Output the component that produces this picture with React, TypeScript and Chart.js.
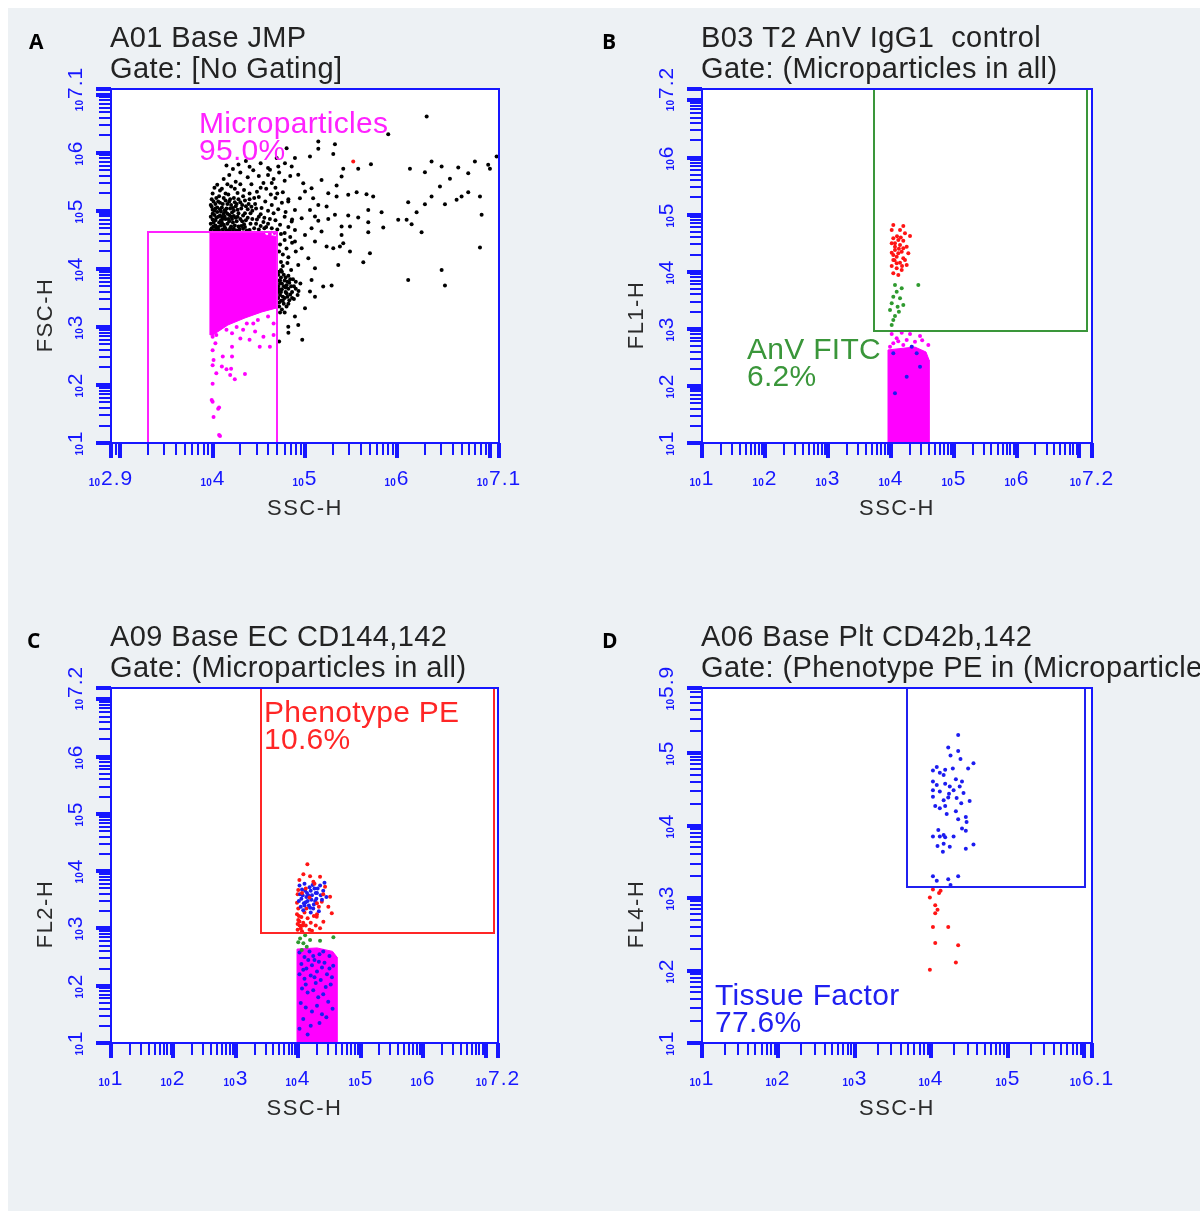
import { useEffect, useRef } from 'react';
import { Chart, registerables } from 'chart.js';

Chart.register(...registerables);

type Pair = [number, number];

// Every event is stored as [log10(SSC-H), log10(channel)].

// ---------- Panel A: FSC-H vs SSC-H, no gating ----------
const aXTicks = [2.9, 4, 5, 6, 7.1];
const aYTicks = [1, 2, 3, 4, 5, 6, 7.1];
const aGateX: Pair = [3.3, 4.7];
const aGateY: Pair = [1, 4.64];

const aMagentaCore: Pair[] = [
  [3.971, 4.64], [4.52, 4.64], [4.58, 4.58], [4.696, 4.56], [4.696, 3.328],
  [4.534, 3.259], [4.35, 3.155], [4.166, 3.034], [4.004, 2.862], [3.971, 2.862], [3.971, 4.64],
];
const aMagentaSparse: Pair[] = [
  [4.0, 2.83], [4.04, 2.86], [4.15, 2.95], [4.26, 3.0], [4.37, 3.06], [4.49, 3.12], [4.6, 3.18],
  [4.66, 3.06], [4.46, 2.92], [4.55, 2.83], [4.3, 2.8], [4.4, 2.78], [4.62, 2.66], [4.51, 2.66],
  [4.21, 2.66], [4.0, 2.6], [4.03, 2.72], [4.11, 2.49], [4.21, 2.49], [4.1, 2.32], [4.0, 2.34],
  [4.04, 2.2], [4.15, 2.27], [4.24, 2.1], [4.35, 2.19], [4.0, 2.02], [4.0, 1.71], [4.07, 1.61],
  [4.01, 1.45], [4.07, 1.14], [4.19, 2.17], [4.01, 2.43], [4.33, 2.95], [4.21, 2.89], [4.44, 3.06],
  [4.66, 2.86], [4.06, 1.59], [4.08, 1.12], [3.99, 1.74], [4.2, 2.28],
  [4.55, 4.62], [4.62, 4.6], [4.67, 4.62],
];
const aRed: Pair[] = [[5.522, 5.85]];
const aBlackSparse: Pair[] = [
  [6.317, 6.626], [5.901, 6.322], [7.074, 5.936], [6.37, 5.85], [6.479, 5.764], [6.659, 5.747],
  [6.767, 5.65], [6.839, 5.85], [6.983, 5.793], [7.002, 5.724], [6.136, 5.724], [6.298, 5.667],
  [5.714, 5.805], [5.576, 5.724], [5.414, 5.724], [5.144, 6.195], [5.324, 6.15], [5.144, 6.069],
  [5.306, 5.978], [5.054, 5.936], [6.569, 5.552], [6.461, 5.419], [6.767, 5.322], [6.695, 5.247],
  [6.894, 5.247], [6.641, 5.19], [6.515, 5.116], [6.37, 5.247], [6.298, 5.116], [6.117, 5.15],
  [6.208, 4.978], [6.009, 4.845], [6.1, 4.845], [6.154, 4.771], [6.262, 4.633], [6.912, 4.931],
  [6.894, 4.367], [6.479, 3.983], [6.515, 3.712], [6.117, 3.81], [5.847, 4.712], [5.829, 4.978],
  [5.685, 5.017], [5.738, 5.247], [5.666, 5.288], [5.559, 5.322], [5.468, 5.276], [5.396, 5.591],
  [5.685, 4.805], [5.685, 4.633], [5.703, 4.271], [5.631, 4.116], [5.36, 4.069], [5.414, 4.443],
  [5.487, 4.298], [5.378, 4.384], [5.306, 4.357], [5.234, 4.384], [5.396, 4.586], [5.396, 4.729],
  [5.252, 4.862], [5.144, 4.828], [5.324, 4.931], [5.468, 4.919], [5.576, 4.884], [5.487, 4.729],
  [5.342, 5.247], [5.252, 5.305], [5.342, 5.436], [5.179, 5.534], [5.071, 5.391], [4.981, 5.478],
  [4.927, 5.621], [4.856, 5.764], [4.783, 5.822], [4.711, 5.764], [4.621, 5.707], [4.891, 5.909],
  [4.801, 6.081], [4.693, 5.909], [5.197, 3.695], [5.288, 3.712], [5.071, 3.81], [5.054, 3.609],
  [5.108, 3.522], [5.0, 3.322], [4.891, 3.178], [4.819, 3.005], [4.927, 3.034], [5.108, 4.012],
  [5.036, 4.184], [4.927, 4.069], [4.964, 4.357], [4.891, 4.471], [5.108, 4.471], [5.0, 4.586],
  [4.891, 4.672], [5.071, 4.702], [5.179, 4.643], [4.856, 4.816], [4.964, 4.874], [5.054, 5.017],
  [4.891, 5.017], [4.819, 5.16], [4.945, 5.219], [5.088, 5.219], [5.0, 5.333], [5.144, 5.103],
  [5.234, 5.074], [5.108, 4.902], [4.82, 2.9], [4.97, 2.78], [4.72, 2.75],
];
const aBlackDense: Pair[] = [
  [4.05, 5.45], [4.12, 5.55], [4.18, 5.62], [4.25, 5.5], [4.3, 5.66], [4.38, 5.58], [4.44, 5.7],
  [4.5, 5.6], [4.55, 5.48], [4.6, 5.62], [4.66, 5.55], [4.72, 5.66], [4.78, 5.52], [4.84, 5.6],
  [4.1, 5.38], [4.2, 5.42], [4.34, 5.36], [4.42, 5.46], [4.48, 5.33], [4.58, 5.38], [4.68, 5.4],
  [4.76, 5.32], [4.0, 5.3], [4.27, 5.31], [4.63, 5.28], [4.15, 5.78], [4.28, 5.8], [4.4, 5.76],
  [4.52, 5.82], [4.36, 5.86], [4.22, 5.72], [4.6, 5.74],
  [3.99, 5.2], [4.03, 5.12], [4.07, 5.25], [4.1, 5.06], [4.14, 5.18], [4.17, 5.28], [4.2, 5.1],
  [4.23, 5.22], [4.27, 5.02], [4.3, 5.15], [4.33, 5.25], [4.36, 5.08], [4.4, 5.2], [4.43, 5.0],
  [4.46, 5.12], [4.5, 5.24], [4.53, 5.05], [4.57, 5.16], [4.6, 5.0], [4.64, 5.1], [4.68, 5.22],
  [4.71, 5.03], [4.75, 5.14], [4.79, 4.98], [4.82, 5.2], [4.0, 5.02], [4.05, 4.98], [4.12, 4.95],
  [4.21, 4.97], [4.35, 4.96], [4.52, 4.94], [4.66, 4.96],
  [3.98, 4.9], [4.01, 4.8], [4.04, 4.88], [4.06, 4.72], [4.09, 4.84], [4.11, 4.68], [4.13, 4.9],
  [4.16, 4.78], [4.19, 4.7], [4.21, 4.86], [4.24, 4.75], [4.27, 4.9], [4.29, 4.68], [4.32, 4.82],
  [4.35, 4.72], [4.38, 4.88], [4.41, 4.78], [4.45, 4.7], [4.48, 4.85], [4.52, 4.74], [4.56, 4.88],
  [4.6, 4.78], [4.64, 4.7], [4.68, 4.84], [4.73, 4.76], [4.78, 4.9], [4.82, 4.72], [3.99, 4.7],
  [4.02, 4.66], [4.08, 4.92], [4.15, 4.66], [4.26, 4.66], [4.4, 4.67], [4.7, 4.68], [4.86, 4.85],
  [4.03, 4.75], [4.07, 4.8], [4.12, 4.76], [4.17, 4.86], [4.22, 4.8], [4.02, 4.93], [4.09, 4.99],
  [4.15, 5.04], [4.25, 5.08], [4.05, 5.06], [4.18, 4.93], [4.28, 4.96], [4.38, 5.03], [4.0, 4.85],
  [4.1, 4.9], [4.3, 4.86], [4.2, 4.73], [4.34, 4.77], [4.47, 4.78], [4.55, 4.81],
  [3.98, 5.1], [4.01, 5.16], [4.04, 5.22], [4.08, 5.14], [4.12, 5.22], [4.16, 5.12], [4.19, 5.2],
  [4.24, 5.15], [4.28, 5.2], [4.32, 5.1], [4.39, 5.12], [4.45, 5.22], [4.02, 5.0], [4.08, 5.03],
  [4.14, 4.99], [4.19, 5.04], [4.23, 5.0], [4.31, 5.04], [4.41, 4.96], [4.47, 5.04], [4.03, 4.84],
  [4.06, 4.9], [4.1, 4.8], [4.14, 4.86], [4.18, 4.82], [4.23, 4.91], [4.26, 4.82], [4.31, 4.74],
  [4.36, 4.84], [4.43, 4.86], [4.5, 4.9], [4.58, 4.72], [4.62, 4.86], [4.01, 4.73], [4.05, 4.68],
  [4.13, 4.72], [4.18, 4.66], [4.23, 4.69], [4.33, 4.69], [4.37, 4.66], [4.5, 4.68], [4.56, 4.7],
  [4.08, 5.35], [4.16, 5.46], [4.24, 5.38], [4.3, 5.46], [4.4, 5.3], [4.52, 5.4], [4.64, 5.48],
  [4.7, 5.3], [4.02, 5.4], [4.14, 5.3],
  [3.98, 4.78], [3.98, 4.67], [4.0, 4.95], [4.04, 4.7], [4.07, 4.67], [4.09, 4.75], [4.11, 4.86],
  [4.14, 4.69], [4.16, 4.95], [4.2, 4.9], [4.22, 4.67], [4.25, 4.88], [4.28, 4.73], [4.33, 4.92],
  [3.99, 5.07], [4.03, 5.04], [4.06, 5.16], [4.11, 5.12], [4.13, 5.01], [4.18, 5.16], [4.22, 5.05],
  [4.26, 5.12], [4.35, 5.18], [4.42, 5.07],
];
const aBlackCluster: Pair[] = [
  [4.72, 3.95], [4.74, 3.85], [4.73, 3.75], [4.72, 3.65], [4.73, 3.55], [4.74, 3.45], [4.72, 3.35],
  [4.77, 3.9], [4.78, 3.8], [4.77, 3.7], [4.79, 3.6], [4.78, 3.5], [4.77, 3.4], [4.82, 3.88],
  [4.83, 3.76], [4.82, 3.66], [4.84, 3.56], [4.83, 3.46], [4.87, 3.82], [4.88, 3.7], [4.86, 3.6],
  [4.9, 3.66], [4.92, 3.55], [4.88, 3.48], [4.75, 3.3], [4.8, 3.35], [4.95, 3.75], [4.76, 4.05],
  [4.81, 4.1], [4.85, 3.98], [4.74, 3.6], [4.76, 3.52], [4.8, 3.72], [4.8, 3.58], [4.85, 3.7],
  [4.73, 3.8], [4.74, 4.6], [4.78, 4.5], [4.73, 4.42], [4.8, 4.35], [4.76, 4.25], [4.82, 4.2],
  [4.74, 4.12], [4.86, 4.45], [4.9, 4.3], [4.78, 4.62], [4.84, 4.55], [4.72, 4.3],
  [4.71, 3.9], [4.71, 3.7], [4.71, 3.5], [4.71, 3.6], [4.72, 3.8], [4.75, 3.95], [4.75, 3.75],
  [4.75, 3.65], [4.76, 3.45], [4.79, 3.85], [4.79, 3.68], [4.81, 3.52], [4.81, 3.78], [4.84, 3.82],
  [4.86, 3.5], [4.9, 3.78], [4.72, 3.42], [4.73, 3.25], [4.78, 3.25], [4.82, 3.4], [4.93, 3.62],
  [4.74, 3.98],
];

// ---------- Panel B: FL1-H (AnV FITC) vs SSC-H ----------
const bXTicks = [1, 2, 3, 4, 5, 6, 7.2];
const bYTicks = [1, 2, 3, 4, 5, 6, 7.2];
const bGateX: Pair = [3.73, 7.12];
const bGateY: Pair = [2.96, 7.2];

const bRed: Pair[] = [
  [4.041, 4.818], [4.2, 4.8], [4.016, 4.73], [4.148, 4.73], [4.227, 4.672], [4.307, 4.625],
  [4.041, 4.585], [4.121, 4.555], [4.2, 4.543], [4.016, 4.497], [4.148, 4.468], [4.254, 4.438],
  [4.068, 4.38], [4.016, 4.333], [4.175, 4.35], [4.28, 4.322], [4.095, 4.263], [4.2, 4.235],
  [4.041, 4.205], [4.148, 4.158], [4.254, 4.117], [4.016, 4.1], [4.095, 4.06], [4.175, 4.03],
  [4.041, 3.972], [4.121, 3.942], [4.068, 4.438], [4.121, 4.322], [4.227, 4.205], [4.095, 4.147],
  [4.2, 4.41], [4.041, 4.293], [4.068, 4.5], [4.1, 4.62], [4.16, 4.6], [4.13, 4.4], [4.06, 4.2],
  [4.18, 4.1],
];
const bGreen: Pair[] = [
  [4.068, 3.767], [4.175, 3.709], [4.439, 3.767], [4.095, 3.65], [4.041, 3.562], [4.148, 3.534],
  [4.016, 3.447], [4.11, 3.387], [4.2, 3.417], [3.989, 3.329], [4.13, 3.3], [4.068, 3.224],
  [4.041, 3.154], [4.016, 3.067],
];
const bMagentaSparse: Pair[] = [
  [4.016, 2.909], [4.175, 2.932], [4.307, 2.909], [4.466, 2.874], [4.095, 2.834], [4.254, 2.804],
  [4.041, 2.746], [4.386, 2.774], [4.598, 2.716], [4.2, 2.716], [3.989, 2.687], [4.334, 2.687],
  [4.12, 2.78], [4.5, 2.8],
];
const bMagentaCore: Pair[] = [
  [3.957, 2.63], [4.2, 2.66], [4.386, 2.68], [4.561, 2.594], [4.609, 2.454], [4.609, 1],
  [3.957, 1], [3.957, 2.63],
];
const bBlue: Pair[] = [
  [4.041, 2.571], [4.334, 2.687], [4.466, 2.336], [4.254, 2.161], [4.068, 1.87], [4.413, 2.571],
];

// ---------- Panel C: FL2-H (Phenotype PE) vs SSC-H ----------
const cXTicks = [1, 2, 3, 4, 5, 6, 7.2];
const cYTicks = [1, 2, 3, 4, 5, 6, 7.2];
const cGateX: Pair = [3.4, 7.14];
const cGateY: Pair = [2.92, 7.2];

const cRed: Pair[] = [
  [4.146, 4.124], [4.082, 3.949], [4.189, 3.914], [4.349, 3.902], [4.018, 3.845], [4.242, 3.815],
  [4.429, 3.728], [4.51, 3.553], [4.377, 3.466], [4.482, 3.379], [4.296, 3.204], [4.402, 3.117],
  [4.349, 3.002], [4.0, 3.67], [4.537, 3.264],
  [3.98, 3.25], [4.0, 3.15], [4.02, 3.05], [3.99, 2.98], [4.05, 3.2], [4.08, 3.1], [4.04, 3.0],
  [4.1, 3.28], [4.12, 3.05], [4.15, 3.18], [4.2, 3.1], [4.25, 3.22], [4.18, 2.98], [4.28, 3.05],
  [3.98, 3.45], [3.99, 3.6], [4.0, 3.35], [4.22, 2.96], [4.3, 3.25], [4.06, 2.95], [4.13, 3.35],
  [4.33, 3.38], [4.02, 3.12], [4.07, 3.05], [4.01, 3.22], [3.99, 3.08],
];
const cRedOnBlue: Pair[] = [
  [4.06, 3.62], [4.18, 3.54], [4.3, 3.44], [4.12, 3.7], [4.26, 3.78], [4.4, 3.6],
];
const cBlueTop: Pair[] = [
  [4.02, 3.75], [4.06, 3.68], [4.1, 3.78], [4.14, 3.62], [4.18, 3.72], [4.22, 3.58], [4.26, 3.7],
  [4.3, 3.62], [4.35, 3.75], [4.4, 3.66], [4.05, 3.52], [4.09, 3.44], [4.13, 3.55], [4.17, 3.4],
  [4.21, 3.5], [4.25, 3.42], [4.29, 3.52], [4.33, 3.3], [4.04, 3.38], [4.08, 3.32], [4.12, 3.46],
  [4.16, 3.58], [4.2, 3.66], [4.24, 3.35], [4.28, 3.62], [4.38, 3.5], [4.42, 3.8], [4.03, 3.6],
  [4.07, 3.58], [4.11, 3.66], [4.15, 3.48], [4.19, 3.36], [4.23, 3.76], [4.27, 3.48], [4.31, 3.7],
  [4.36, 3.58], [4.45, 3.55], [4.01, 3.48], [4.1, 3.4], [4.2, 3.28],
];
const cGreen: Pair[] = [
  [4.029, 2.827], [4.082, 2.74], [4.189, 2.798], [4.349, 2.785], [4.563, 2.845], [4.056, 2.623],
  [4.136, 2.681], [4.0, 2.76], [4.11, 2.88],
];
const cMagentaCore: Pair[] = [
  [3.98, 2.64], [4.3, 2.66], [4.55, 2.6], [4.62, 2.5], [4.62, 1], [3.98, 1], [3.98, 2.64],
];
const cBlueLow: Pair[] = [
  [4.02, 2.58], [4.1, 2.5], [4.18, 2.6], [4.26, 2.45], [4.34, 2.55], [4.42, 2.4], [4.5, 2.52],
  [4.56, 2.35], [4.05, 2.38], [4.13, 2.3], [4.22, 2.36], [4.3, 2.25], [4.38, 2.32], [4.46, 2.2],
  [4.54, 2.15], [4.02, 2.2], [4.1, 2.12], [4.2, 2.18], [4.28, 2.05], [4.36, 2.1], [4.44, 1.98],
  [4.52, 2.02], [4.06, 1.95], [4.15, 1.88], [4.24, 1.92], [4.32, 1.8], [4.4, 1.85], [4.48, 1.72],
  [4.04, 1.7], [4.12, 1.62], [4.22, 1.55], [4.3, 1.65], [4.38, 1.5], [4.08, 1.42], [4.2, 1.3],
  [4.34, 1.35], [4.45, 1.45], [4.02, 1.25], [4.15, 1.15], [4.55, 1.6], [4.16, 2.45], [4.24, 2.52],
  [4.4, 2.6], [4.08, 2.28], [4.33, 2.42], [4.5, 2.3], [4.26, 2.15], [4.12, 2.02],
];

// ---------- Panel D: FL4-H (Tissue Factor) vs SSC-H ----------
const dXTicks = [1, 2, 3, 4, 5, 6.1];
const dYTicks = [1, 2, 3, 4, 5, 5.9];
const dGateX: Pair = [3.68, 6.01];
const dGateY: Pair = [3.15, 5.9];

const dBlue: Pair[] = [
  [4.35, 5.25], [4.22, 5.08], [4.35, 5.03], [4.25, 4.97], [4.38, 4.92], [4.55, 4.86], [4.48, 4.79],
  [4.02, 4.76], [4.07, 4.81], [4.11, 4.73], [4.18, 4.77], [4.28, 4.79], [4.16, 4.7], [4.32, 4.64],
  [4.4, 4.61], [4.02, 4.61], [4.07, 4.56], [4.18, 4.58], [4.24, 4.54], [4.29, 4.49], [4.37, 4.54],
  [4.02, 4.49], [4.11, 4.47], [4.23, 4.44], [4.42, 4.45], [4.02, 4.4], [4.16, 4.35], [4.5, 4.34],
  [4.33, 4.38], [4.22, 4.39], [4.05, 4.27], [4.11, 4.24], [4.18, 4.27], [4.39, 4.31], [4.2, 4.16],
  [4.32, 4.2], [4.35, 4.09], [4.45, 4.12], [4.46, 4.05], [4.4, 3.96], [4.45, 3.93], [4.09, 3.94],
  [4.02, 3.85], [4.11, 3.85], [4.16, 3.87], [4.18, 3.84], [4.29, 3.85], [4.08, 3.72], [4.16, 3.75],
  [4.24, 3.71], [4.15, 3.64], [4.45, 3.68], [4.55, 3.74], [4.02, 3.3], [4.07, 3.24], [4.22, 3.26],
  [4.35, 3.3], [4.25, 3.18],
];
const dRed: Pair[] = [
  [4.02, 3.12], [4.1, 3.07], [4.12, 3.1], [3.98, 3.01], [4.05, 2.9], [4.08, 2.84], [4.05, 2.79],
  [4.02, 2.6], [4.22, 2.6], [4.05, 2.38], [4.35, 2.35], [4.32, 2.11], [3.98, 2.01],
];

// ---------- drawing ----------
const FONT = '"Liberation Sans", Arial, Helvetica, sans-serif';
const AXIS_BLUE = '#1717ff';
const MAGENTA = '#ff00ff';
const BLACK = '#000000';
const RED = '#ff1414';
const GREEN = '#2f9a2f';
const BLUE = '#1c1cf0';

interface Series { data: Pair[]; color: string; core?: boolean }
interface Panel {
  key: string;
  letter: string;
  letterDx: number;
  title: string[];
  xTitle: string;
  yTitle: string;
  xTicks: number[];
  yTicks: number[];
  gateX: Pair;
  gateY: Pair;
  gateColor: string;
  gateLabel: string[];
  gateLabelAt: Pair;
  series: Series[]; // first entry is drawn on top
  frame: { left: number; top: number; width: number; height: number };
  pad: { left: number; top: number; right: number; bottom: number };
}

const panels: Panel[] = [
  {
    key: 'A', letter: 'A', letterDx: -82,
    title: ['A01 Base JMP', 'Gate: [No Gating]'],
    xTitle: 'SSC-H', yTitle: 'FSC-H',
    xTicks: aXTicks, yTicks: aYTicks,
    gateX: aGateX, gateY: aGateY, gateColor: '#ff22ff',
    gateLabel: ['Microparticles', '95.0%'], gateLabelAt: [88, 44],
    series: [
      { data: aRed, color: RED },
      { data: aMagentaSparse, color: MAGENTA },
      { data: aMagentaCore, color: MAGENTA, core: true },
      { data: aBlackSparse, color: BLACK },
      { data: aBlackDense, color: BLACK },
      { data: aBlackCluster, color: BLACK },
    ],
    frame: { left: 0, top: 0, width: 592, height: 592 },
    pad: { left: 103, top: 81, right: 101, bottom: 157 },
  },
  {
    key: 'B', letter: 'B', letterDx: -100,
    title: ['B03 T2 AnV IgG1  control', 'Gate: (Microparticles in all)'],
    xTitle: 'SSC-H', yTitle: 'FL1-H',
    xTicks: bXTicks, yTicks: bYTicks,
    gateX: bGateX, gateY: bGateY, gateColor: '#3a963a',
    gateLabel: ['AnV FITC', '6.2%'], gateLabelAt: [45, 270],
    series: [
      { data: bBlue, color: BLUE },
      { data: bRed, color: RED },
      { data: bGreen, color: GREEN },
      { data: bMagentaSparse, color: MAGENTA },
      { data: bMagentaCore, color: MAGENTA, core: true },
    ],
    frame: { left: 592, top: 0, width: 600, height: 592 },
    pad: { left: 102, top: 81, right: 108, bottom: 157 },
  },
  {
    key: 'C', letter: 'C', letterDx: -84,
    title: ['A09 Base EC CD144,142', 'Gate: (Microparticles in all)'],
    xTitle: 'SSC-H', yTitle: 'FL2-H',
    xTicks: cXTicks, yTicks: cYTicks,
    gateX: cGateX, gateY: cGateY, gateColor: '#ff2626',
    gateLabel: ['Phenotype PE', '10.6%'], gateLabelAt: [153, 34],
    series: [
      { data: cRedOnBlue, color: RED },
      { data: cBlueTop, color: BLUE },
      { data: cRed, color: RED },
      { data: cGreen, color: GREEN },
      { data: cBlueLow, color: BLUE },
      { data: cMagentaCore, color: MAGENTA, core: true },
    ],
    frame: { left: 0, top: 592, width: 592, height: 611 },
    pad: { left: 103, top: 88, right: 102, bottom: 168 },
  },
  {
    key: 'D', letter: 'D', letterDx: -100,
    title: ['A06 Base Plt CD42b,142', 'Gate: (Phenotype PE in (Microparticles in all))'],
    xTitle: 'SSC-H', yTitle: 'FL4-H',
    xTicks: dXTicks, yTicks: dYTicks,
    gateX: dGateX, gateY: dGateY, gateColor: '#2020f0',
    gateLabel: ['Tissue Factor', '77.6%'], gateLabelAt: [13, 317],
    series: [
      { data: dBlue, color: BLUE },
      { data: dRed, color: RED },
    ],
    frame: { left: 592, top: 592, width: 600, height: 611 },
    pad: { left: 102, top: 88, right: 108, bottom: 168 },
  },
];

const toXY = (pts: Pair[]) => pts.map(([ex, ey]) => ({ x: 10 ** ex, y: 10 ** ey }));

// decade ruler: 1..9 x 10^n inside the axis range, plus both ends
function rulerTicks(lo: number, hi: number) {
  const out: { e: number; major: boolean }[] = [{ e: lo, major: true }, { e: hi, major: true }];
  for (let n = Math.floor(lo); n <= Math.ceil(hi); n++) {
    for (let k = 1; k <= 9; k++) {
      const e = n + Math.log10(k);
      if (e > lo + 1e-6 && e < hi - 1e-6) out.push({ e, major: k === 1 });
    }
  }
  return out;
}

// "10" in small type followed by the exponent, centred on cx
function drawPower(ctx: any, exp: string, cx: number, base: number) {
  ctx.font = `bold 10px ${FONT}`;
  ctx.letterSpacing = '0px';
  const w10 = ctx.measureText('10').width;
  ctx.font = `21px ${FONT}`;
  ctx.letterSpacing = '1px';
  const we = ctx.measureText(exp).width;
  const x0 = cx - (w10 + 1 + we) / 2;
  ctx.font = `bold 10px ${FONT}`;
  ctx.letterSpacing = '0px';
  ctx.fillText('10', x0, base + 1);
  ctx.font = `21px ${FONT}`;
  ctx.letterSpacing = '1px';
  ctx.fillText(exp, x0 + w10 + 1, base);
  ctx.letterSpacing = '0px';
}

function overlayPlugin(p: Panel) {
  return {
    id: 'cytoOverlay',
    beforeDraw(chart: any) {
      const { ctx, chartArea: a } = chart;
      ctx.save();
      ctx.fillStyle = '#ffffff';
      ctx.fillRect(a.left, a.top, a.right - a.left, a.bottom - a.top);
      ctx.restore();
    },
    afterDatasetsDraw(chart: any) {
      const { ctx, chartArea: a } = chart;
      const X = (e: number) => Math.round(chart.scales.x.getPixelForValue(10 ** e));
      const Y = (e: number) => Math.round(chart.scales.y.getPixelForValue(10 ** e));
      const L = Math.round(a.left), T = Math.round(a.top), R = Math.round(a.right), B = Math.round(a.bottom);
      ctx.save();
      ctx.textAlign = 'left';
      ctx.textBaseline = 'alphabetic';

      // gate
      ctx.strokeStyle = p.gateColor;
      ctx.lineWidth = 2;
      const gl = X(p.gateX[0]), gr = X(p.gateX[1]), gt = Y(p.gateY[1]), gb = Y(p.gateY[0]);
      ctx.strokeRect(gl, gt, gr - gl, gb - gt);
      ctx.fillStyle = p.gateColor;
      ctx.font = `30px ${FONT}`;
      ctx.letterSpacing = '0.3px';
      p.gateLabel.forEach((s, i) => ctx.fillText(s, L + p.gateLabelAt[0], T + p.gateLabelAt[1] + i * 27));
      ctx.letterSpacing = '0px';

      // frame
      ctx.strokeStyle = AXIS_BLUE;
      ctx.lineWidth = 2;
      ctx.strokeRect(L, T, R - L, B - T);

      // rulers
      const xLo = p.xTicks[0], xHi = p.xTicks[p.xTicks.length - 1];
      const yLo = p.yTicks[0], yHi = p.yTicks[p.yTicks.length - 1];
      for (const t of rulerTicks(xLo, xHi)) {
        const px = X(t.e);
        ctx.lineWidth = t.major ? 4 : 2;
        ctx.beginPath();
        ctx.moveTo(px, B);
        ctx.lineTo(px, B + (t.major ? 15 : 12));
        ctx.stroke();
      }
      for (const t of rulerTicks(yLo, yHi)) {
        const py = Y(t.e);
        ctx.lineWidth = t.major ? 4 : 2;
        ctx.beginPath();
        ctx.moveTo(L, py);
        ctx.lineTo(L - (t.major ? 15 : 12), py);
        ctx.stroke();
      }

      // tick labels
      ctx.fillStyle = AXIS_BLUE;
      p.xTicks.forEach((e) => drawPower(ctx, String(e), X(e), B + 42));
      p.yTicks.forEach((e) => {
        ctx.save();
        ctx.translate(L - 29, Y(e));
        ctx.rotate(-Math.PI / 2);
        drawPower(ctx, String(e), 0, 0);
        ctx.restore();
      });

      // axis titles
      ctx.fillStyle = '#2b2b2b';
      ctx.font = `22px ${FONT}`;
      ctx.letterSpacing = '1.5px';
      ctx.textAlign = 'center';
      ctx.fillText(p.xTitle, (L + R) / 2, B + 72);
      ctx.save();
      ctx.translate(L - 59, T + 226);
      ctx.rotate(-Math.PI / 2);
      ctx.fillText(p.yTitle, 0, 0);
      ctx.restore();
      ctx.letterSpacing = '0px';

      // header
      ctx.textAlign = 'left';
      ctx.fillStyle = '#232323';
      ctx.font = `29px ${FONT}`;
      ctx.letterSpacing = '0.4px';
      ctx.fillText(p.title[0], L - 1, T - 42);
      ctx.fillText(p.title[1], L - 1, T - 11);
      ctx.letterSpacing = '0px';

      ctx.fillStyle = '#000000';
      ctx.font = `bold 21px "Open Sans", ${FONT}`;
      ctx.fillText(p.letter, L + p.letterDx, T - 40);
      ctx.restore();
    },
  };
}

function CytoPanel({ p }: { p: Panel }) {
  const ref = useRef<HTMLCanvasElement>(null);
  useEffect(() => {
    const canvas = ref.current;
    if (!canvas) return;
    const datasets = p.series.map((s) =>
      s.core
        ? {
            type: 'line',
            data: toXY(s.data),
            fill: 'shape',
            backgroundColor: s.color,
            borderColor: s.color,
            borderWidth: 1,
            pointRadius: 0,
            tension: 0,
          }
        : {
            type: 'scatter',
            data: toXY(s.data),
            backgroundColor: s.color,
            borderWidth: 0,
            pointRadius: 2,
            pointHoverRadius: 2,
            pointStyle: 'circle',
          },
    );
    const xLo = p.xTicks[0], xHi = p.xTicks[p.xTicks.length - 1];
    const yLo = p.yTicks[0], yHi = p.yTicks[p.yTicks.length - 1];
    const chart = new Chart(canvas, {
      type: 'scatter',
      data: { datasets },
      options: {
        responsive: false,
        animation: false,
        events: [],
        layout: { padding: p.pad },
        scales: {
          x: { type: 'logarithmic', min: 10 ** xLo, max: 10 ** xHi, display: false },
          y: { type: 'logarithmic', min: 10 ** yLo, max: 10 ** yHi, display: false },
        },
        plugins: { legend: { display: false }, tooltip: { enabled: false } },
      },
      plugins: [overlayPlugin(p)],
    } as any);
    return () => chart.destroy();
  }, [p]);
  return (
    <canvas
      ref={ref}
      width={p.frame.width}
      height={p.frame.height}
      style={{ position: 'absolute', left: p.frame.left, top: p.frame.top, width: p.frame.width, height: p.frame.height }}
    />
  );
}

export default function App() {
  return (
    <div
      style={{
        position: 'fixed',
        left: 8,
        top: 8,
        width: 1192,
        height: 1203,
        background: '#edf1f4',
        overflow: 'hidden',
      }}
    >
      {panels.map((p) => (
        <CytoPanel key={p.key} p={p} />
      ))}
    </div>
  );
}
